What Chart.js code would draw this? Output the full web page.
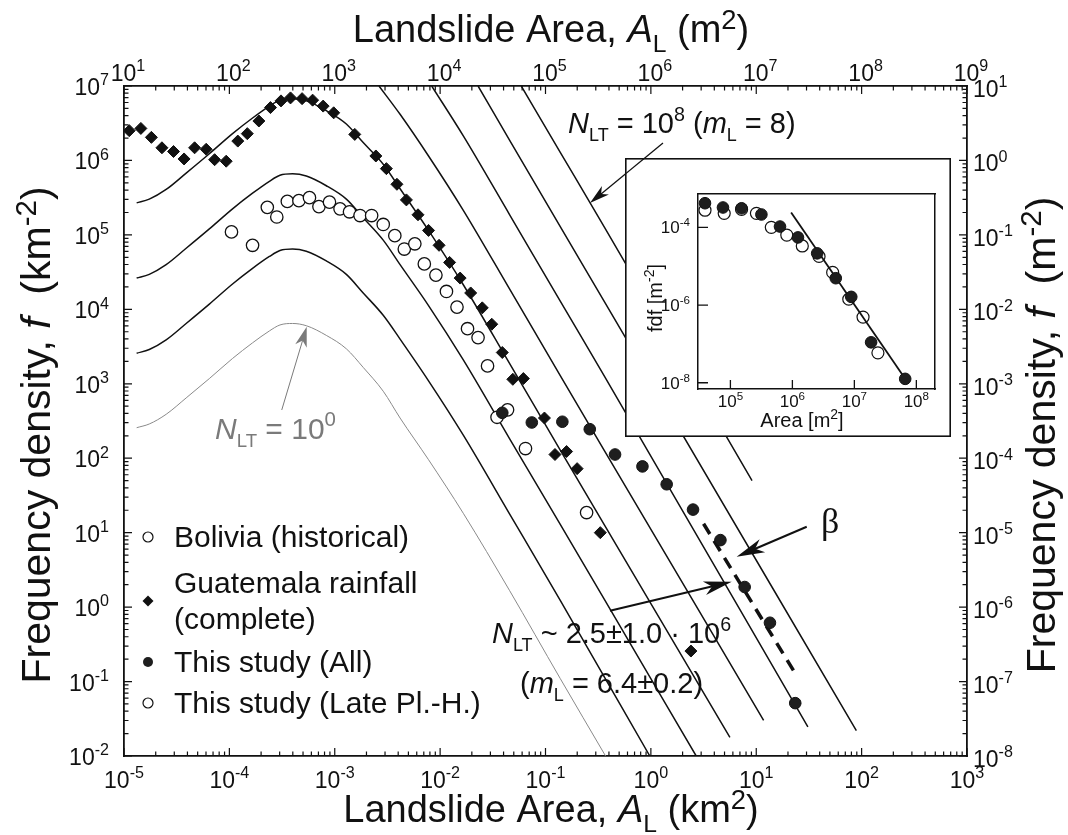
<!DOCTYPE html>
<html lang="en">
<head>
<meta charset="utf-8">
<title>Landslide frequency density</title>
<script src="https://cdn.jsdelivr.net/npm/chart.js@4.4.1/dist/chart.umd.min.js"></script>
<style>
  html, body { margin: 0; padding: 0; background: #fff; }
  #wrap { position: relative; width: 1068px; height: 835px; overflow: hidden; }
  #main { position: absolute; left: 0; top: 0; }
  #inset { position: absolute; left: 625px; top: 158px; }
</style>
</head>
<body>
<div id="wrap">
  <canvas id="main" width="1068" height="835"></canvas>
  <canvas id="inset" width="326" height="279"></canvas>
</div>
<script>
// ============================================================
// Landslide frequency density, log-log with km / m twin axes
// Values are log10 pairs [A_L, f]; main plot in km^2 and km^-2
// ============================================================

const INK = '#111';
const GREY = '#8a8a8a';
const SANS = '"Liberation Sans", Arial, Helvetica, sans-serif';
const SERIF = '"Liberation Serif", "Times New Roman", serif';

// ---- observed distributions ----
const boliviaLog = [
  [-3.98, 5.04], [-3.78, 4.86], [-3.64, 5.37], [-3.55, 5.24], [-3.45, 5.45], [-3.34, 5.46],
  [-3.24, 5.50], [-3.15, 5.38], [-3.05, 5.44], [-2.95, 5.35], [-2.86, 5.31], [-2.76, 5.26],
  [-2.65, 5.26], [-2.54, 5.14], [-2.43, 4.99], [-2.34, 4.81], [-2.24, 4.88], [-2.15, 4.61],
  [-2.04, 4.46], [-1.94, 4.24], [-1.84, 4.03], [-1.74, 3.74], [-1.64, 3.62], [-1.55, 3.24],
  [-1.46, 2.55], [-1.19, 2.13], [-0.61, 1.27]
];
const guatemalaLog = [
  [-4.95, 6.40], [-4.84, 6.43], [-4.74, 6.31], [-4.64, 6.17], [-4.53, 6.12], [-4.43, 6.02],
  [-4.33, 6.17], [-4.22, 6.15], [-4.14, 6.01], [-4.03, 5.99], [-3.92, 6.26], [-3.83, 6.36],
  [-3.72, 6.53], [-3.61, 6.71], [-3.51, 6.80], [-3.42, 6.84], [-3.31, 6.83], [-3.21, 6.81],
  [-3.11, 6.73], [-3.01, 6.64], [-2.81, 6.35], [-2.61, 6.06], [-2.51, 5.89], [-2.41, 5.68],
  [-2.32, 5.47], [-2.21, 5.27], [-2.11, 5.06], [-2.01, 4.86], [-1.91, 4.63], [-1.81, 4.42],
  [-1.71, 4.22], [-1.60, 4.02], [-1.51, 3.80], [-1.41, 3.42], [-1.31, 3.06], [-1.21, 3.07],
  [-1.01, 2.54], [-0.91, 2.05], [-0.80, 2.09], [-0.70, 1.86], [-0.48, 1.00], [0.38, -0.59]
];
const studyAllLog = [
  [-1.41, 2.61], [-1.13, 2.48], [-0.84, 2.49], [-0.58, 2.39], [-0.34, 2.05], [-0.08, 1.89],
  [0.15, 1.65], [0.40, 1.31], [0.66, 0.90], [0.89, 0.27], [1.13, -0.21], [1.37, -1.29]
];
const studyLateLog = [[-1.36, 2.65]];
const betaFitLog = [[0.50, 1.12], [1.37, -0.89]];

// ---- model curves, lowest (grey) to highest ----
const curve0Log = [
  [-4.88, 2.41], [-4.76, 2.46], [-4.60, 2.59], [-4.41, 2.81], [-4.19, 3.07], [-3.97, 3.34],
  [-3.78, 3.55], [-3.62, 3.71], [-3.52, 3.79], [-3.40, 3.81], [-3.27, 3.78], [-3.08, 3.65],
  [-2.89, 3.47], [-2.73, 3.22], [-2.54, 2.90], [-2.38, 2.54], [-2.11, 1.98], [-1.78, 1.26],
  [-1.34, 0.22], [-0.86, -0.96], [-0.43, -2.00]
];
const curve1Log = [
  [-4.88, 3.41], [-4.76, 3.46], [-4.60, 3.59], [-4.41, 3.81], [-4.19, 4.07], [-3.97, 4.34],
  [-3.78, 4.55], [-3.62, 4.71], [-3.52, 4.79], [-3.40, 4.81], [-3.27, 4.78], [-3.08, 4.65],
  [-2.89, 4.47], [-2.73, 4.22], [-2.54, 3.92], [-2.38, 3.60], [-2.11, 3.04], [-1.78, 2.31],
  [-1.34, 1.25], [-0.86, 0.09], [-0.01, -2.00]
];
const curve2Log = [
  [-4.88, 4.42], [-4.76, 4.47], [-4.60, 4.60], [-4.41, 4.82], [-4.19, 5.08], [-3.97, 5.35],
  [-3.78, 5.56], [-3.62, 5.72], [-3.52, 5.80], [-3.40, 5.82], [-3.27, 5.79], [-3.08, 5.66],
  [-2.89, 5.48], [-2.73, 5.23], [-2.54, 4.93], [-2.38, 4.60], [-2.11, 4.05], [-1.78, 3.32],
  [-1.34, 2.26], [-0.86, 1.11], [-0.44, 0.10], [0.43, -2.00]
];
const curve3Log = [
  [-4.88, 5.43], [-4.76, 5.48], [-4.60, 5.61], [-4.41, 5.83], [-4.19, 6.09], [-3.97, 6.36],
  [-3.78, 6.57], [-3.62, 6.73], [-3.52, 6.81], [-3.40, 6.83], [-3.27, 6.80], [-3.08, 6.67],
  [-2.89, 6.49], [-2.73, 6.24], [-2.54, 5.95], [-2.38, 5.62], [-2.11, 5.06], [-1.78, 4.33],
  [-1.34, 3.27], [-0.86, 2.11], [-0.44, 1.10], [0.75, -1.75]
];
const curve4Log = [[-2.58, 7.00], [-2.38, 6.62], [-2.11, 6.06], [-1.78, 5.33], [-1.34, 4.27], [-0.86, 3.11], [-0.44, 2.10], [1.07, -1.52]];
const curve5Log = [[-2.08, 7.00], [-1.78, 6.33], [-1.34, 5.27], [-0.86, 4.11], [-0.44, 3.10], [1.49, -1.61]];
const curve6Log = [[-1.64, 7.00], [-1.34, 6.27], [-0.86, 5.11], [-0.44, 4.10], [1.95, -1.66]];
const curve7Log = [[-1.23, 7.00], [-0.86, 6.11], [-0.44, 5.10], [0.96, 1.70]];

// ---- tick exponents ----
const bottomExp = [-5, -4, -3, -2, -1, 0, 1, 2, 3];
const topExp = [1, 2, 3, 4, 5, 6, 7, 8, 9];
const leftExp = [7, 6, 5, 4, 3, 2, 1, 0, -1, -2];
const rightExp = [1, 0, -1, -2, -3, -4, -5, -6, -7, -8];

// ---- inset: same study in m^2 and m^-2 ----
const insetAllLog = [
  [4.59, -3.38], [4.88, -3.49], [5.18, -3.51], [5.50, -3.67], [5.80, -3.98], [6.09, -4.26],
  [6.40, -4.67], [6.70, -5.31], [6.95, -5.79], [7.27, -6.96], [7.82, -7.90]
];
const insetLateLog = [
  [4.59, -3.56], [4.90, -3.64], [5.18, -3.54], [5.42, -3.64], [5.66, -4.00], [5.91, -4.20],
  [6.16, -4.48], [6.43, -4.75], [6.65, -5.16], [6.91, -5.85], [7.14, -6.31], [7.38, -7.23]
];
const insetFitLog = [[5.98, -3.62], [7.82, -7.90]];
const insetXExp = [5, 6, 7, 8];
const insetYExp = [-4, -6, -8];

// ---- text helpers: runs of [text, kind], kind = '' | 'i' | 'sub' | 'sup' ----
function runMetrics(kind, size, o) {
  if (kind === 'sub') return { px: size * o.sub[0], dy: size * o.sub[1], italic: false };
  if (kind === 'sup') return { px: size * o.sup[0], dy: -size * o.sup[1], italic: false };
  return { px: size, dy: 0, italic: kind === 'i' };
}

function drawRich(ctx, runs, x, y, size, opt) {
  const o = Object.assign({ align: 'left', color: INK, family: SANS, sub: [0.62, 0.26], sup: [0.68, 0.42] }, opt || {});
  const setFont = m => { ctx.font = (m.italic ? 'italic ' : '') + m.px.toFixed(1) + 'px ' + o.family; };
  ctx.save();
  ctx.fillStyle = o.color;
  ctx.textAlign = 'left';
  ctx.textBaseline = 'alphabetic';
  let w = 0;
  for (const [t, k] of runs) { const m = runMetrics(k, size, o); setFont(m); w += ctx.measureText(t).width; }
  let cx = o.align === 'center' ? x - w / 2 : (o.align === 'right' ? x - w : x);
  for (const [t, k] of runs) {
    const m = runMetrics(k, size, o);
    setFont(m);
    ctx.fillText(t, cx, y + m.dy);
    cx += ctx.measureText(t).width;
  }
  ctx.restore();
}

const powRuns = e => [['10'], [String(e), 'sup']];
const TICK_FONT = 23;
const tickOpt = extra => Object.assign({ sup: [0.7, 0.42] }, extra || {});

function logTicks(ctx, scale, side, a, major, minor) {
  const lo = Math.log10(scale.min), hi = Math.log10(scale.max);
  ctx.beginPath();
  for (let e = Math.floor(lo); e <= Math.ceil(hi); e++) {
    for (let m = 1; m <= 9; m++) {
      const lv = Math.log10(m * Math.pow(10, e));
      if (lv < lo - 1e-9 || lv > hi + 1e-9) continue;
      const p = scale.getPixelForValue(Math.pow(10, lv));
      const len = m === 1 ? major : minor;
      if (side === 'bottom') { ctx.moveTo(p, a.bottom); ctx.lineTo(p, a.bottom - len); }
      else if (side === 'top') { ctx.moveTo(p, a.top); ctx.lineTo(p, a.top + len); }
      else if (side === 'left') { ctx.moveTo(a.left, p); ctx.lineTo(a.left + len, p); }
      else { ctx.moveTo(a.right, p); ctx.lineTo(a.right - len, p); }
    }
  }
  ctx.stroke();
}

function drawArrow(ctx, x1, y1, x2, y2, o) {
  const { color = INK, width = 1.3, head = 18, half = 5 } = o || {};
  const ang = Math.atan2(y2 - y1, x2 - x1);
  ctx.save();
  ctx.strokeStyle = color;
  ctx.lineWidth = width;
  ctx.beginPath();
  ctx.moveTo(x1, y1);
  ctx.lineTo(x2 - Math.cos(ang) * head * 0.7, y2 - Math.sin(ang) * head * 0.7);
  ctx.stroke();
  ctx.translate(x2, y2);
  ctx.rotate(ang);
  ctx.fillStyle = color;
  ctx.beginPath();
  ctx.moveTo(0, 0);
  ctx.lineTo(-head, -half);
  ctx.lineTo(-head * 0.72, 0);
  ctx.lineTo(-head, half);
  ctx.closePath();
  ctx.fill();
  ctx.restore();
}

function drawMarker(ctx, style, x, y, r, fill, stroke, lw) {
  ctx.save();
  ctx.fillStyle = fill;
  ctx.strokeStyle = stroke;
  ctx.lineWidth = lw;
  ctx.beginPath();
  if (style === 'rectRot') {
    ctx.moveTo(x, y - r); ctx.lineTo(x + r, y); ctx.lineTo(x, y + r); ctx.lineTo(x - r, y); ctx.closePath();
  } else {
    ctx.arc(x, y, r, 0, Math.PI * 2);
  }
  ctx.fill();
  if (lw) ctx.stroke();
  ctx.restore();
}

const pts = arr => arr.map(([a, f]) => ({ x: Math.pow(10, a), y: Math.pow(10, f) }));

const axis = (pos, min, max, bw) => ({
  type: 'logarithmic', position: pos, min: min, max: max,
  ticks: { display: false },
  grid: { display: false, drawTicks: false },
  border: { display: true, color: INK, width: bw || 1.8 }
});

// arrow from the "N = 10^8" label, in main-canvas pixels
function topArrowPx(chart) {
  const { x, y } = chart.scales;
  return [
    x.getPixelForValue(Math.pow(10, 0.115)), y.getPixelForValue(Math.pow(10, 6.234)),
    x.getPixelForValue(Math.pow(10, -0.578)), y.getPixelForValue(Math.pow(10, 5.428))
  ];
}

const legendRows = [
  // dataset index, marker y, text line y's
  [0, 537, [537]],
  [1, 601, [583, 619]],
  [2, 662, [662]],
  [3, 703, [703]]
];

const frameDecor = {
  id: 'frameDecor',
  afterDraw(chart) {
    const ctx = chart.ctx;
    const { x, xTop, y, yRight } = chart.scales;
    const a = chart.chartArea;
    const P = (la, lf) => [x.getPixelForValue(Math.pow(10, la)), y.getPixelForValue(Math.pow(10, lf))];

    // inward tick marks on all four sides
    ctx.save();
    ctx.strokeStyle = INK;
    ctx.lineWidth = 1.2;
    logTicks(ctx, x, 'bottom', a, 8, 4.5);
    logTicks(ctx, xTop, 'top', a, 8, 4.5);
    logTicks(ctx, y, 'left', a, 8, 4.5);
    logTicks(ctx, yRight, 'right', a, 8, 4.5);
    ctx.restore();

    // tick labels
    bottomExp.forEach(e => drawRich(ctx, powRuns(e), x.getPixelForValue(Math.pow(10, e)), a.bottom + 32, TICK_FONT, tickOpt({ align: 'center' })));
    topExp.forEach(e => drawRich(ctx, powRuns(e), xTop.getPixelForValue(Math.pow(10, e)) + 4, a.top - 5, TICK_FONT, tickOpt({ align: 'center' })));
    leftExp.forEach(e => drawRich(ctx, powRuns(e), a.left - 15, y.getPixelForValue(Math.pow(10, e)) + 9, TICK_FONT, tickOpt({ align: 'right' })));
    rightExp.forEach(e => drawRich(ctx, powRuns(e), a.right + 6, yRight.getPixelForValue(Math.pow(10, e)) + 11, TICK_FONT, tickOpt()));

    // axis titles
    const tOpt = { align: 'center', sub: [0.65, 0.25], sup: [0.72, 0.34] };
    drawRich(ctx, [['Landslide Area, '], ['A', 'i'], ['L', 'sub'], [' (m'], ['2', 'sup'], [')']], 551, 42, 38, tOpt);
    drawRich(ctx, [['Landslide Area, '], ['A', 'i'], ['L', 'sub'], [' (km'], ['2', 'sup'], [')']], 551, 822, 38, tOpt);
    ctx.save();
    ctx.translate(50, 435);
    ctx.rotate(-Math.PI / 2);
    drawRich(ctx, [['Frequency density, '], ['f', 'i'], ['  (km'], ['-2', 'sup'], [')']], 0, 0, 41, tOpt);
    ctx.restore();
    ctx.save();
    ctx.translate(1055, 435);
    ctx.rotate(-Math.PI / 2);
    drawRich(ctx, [['Frequency density, '], ['f', 'i'], ['  (m'], ['-2', 'sup'], [')']], 0, 0, 41, tOpt);
    ctx.restore();

    // legend
    legendRows.forEach(([di, my, lines]) => {
      const ds = chart.data.datasets[di];
      const open = ds.pointBackgroundColor === '#fff';
      drawMarker(ctx, ds.pointStyle, 148, my, ds.pointStyle === 'rectRot' ? 5.5 : 5,
        ds.pointBackgroundColor, ds.pointBorderColor, open ? 1.2 : 0);
      ds.label.split('\n').forEach((t, i) => drawRich(ctx, [[t]], 174, lines[i] + 10, 30));
    });

    // annotations
    let p = P(-0.786, 6.369);
    drawRich(ctx, [['N', 'i'], ['LT', 'sub'], [' = 10'], ['8', 'sup'], [' ('], ['m', 'i'], ['L', 'sub'], [' = 8)']], p[0], p[1], 29);
    const ta = topArrowPx(chart);
    drawArrow(ctx, ta[0], ta[1], ta[2], ta[3], { width: 1.3, head: 20, half: 5.5 });

    p = P(-4.136, 2.258);
    drawRich(ctx, [['N', 'i'], ['LT', 'sub'], [' = 10'], ['0', 'sup']], p[0], p[1], 30, { color: '#7a7a7a' });
    let s = P(-3.503, 2.648), t = P(-3.266, 3.766);
    drawArrow(ctx, s[0], s[1], t[0], t[1], { color: '#7a7a7a', width: 1, head: 20, half: 6 });

    p = P(-1.508, -0.483);
    drawRich(ctx, [['N', 'i'], ['LT', 'sub'], [' ~ 2.5\u00b11.0 \u00b7 10'], ['6', 'sup']], p[0], p[1], 29);
    p = P(-1.242, -1.154);
    drawRich(ctx, [['('], ['m', 'i'], ['L', 'sub'], [' = 6.4\u00b10.2)']], p[0], p[1], 29);
    s = P(-0.388, -0.049); t = P(0.767, 0.341);
    drawArrow(ctx, s[0], s[1], t[0], t[1], { width: 2, head: 28, half: 7 });

    p = P(1.614, 0.995);
    drawRich(ctx, [['\u03b2']], p[0], p[1], 36, { family: SERIF });
    s = P(1.479, 1.080); t = P(0.814, 0.677);
    drawArrow(ctx, s[0], s[1], t[0], t[1], { width: 2, head: 28, half: 7 });
  }
};

const curve = (arr, i) => ({
  label: 'model ' + i,
  data: pts(arr), showLine: true,
  borderColor: i === 0 ? GREY : INK, borderWidth: i === 0 ? 1 : 1.5,
  pointRadius: 0, pointHoverRadius: 0,
  cubicInterpolationMode: 'monotone', order: 10
});
const modelCurves = [curve0Log, curve1Log, curve2Log, curve3Log, curve4Log, curve5Log, curve6Log, curve7Log];

const mainChart = new Chart(document.getElementById('main'), {
  type: 'scatter',
  data: {
    datasets: [
      { label: 'Bolivia (historical)', data: pts(boliviaLog), pointStyle: 'circle', pointRadius: 6.2,
        pointBackgroundColor: '#fff', pointBorderColor: INK, pointBorderWidth: 1.3, order: 4 },
      { label: 'Guatemala rainfall\n(complete)', data: pts(guatemalaLog), pointStyle: 'rectRot', pointRadius: 6,
        pointBackgroundColor: INK, pointBorderColor: INK, pointBorderWidth: 1, order: 2 },
      { label: 'This study (All)', data: pts(studyAllLog), pointStyle: 'circle', pointRadius: 5.8,
        pointBackgroundColor: '#1e1e1e', pointBorderColor: INK, pointBorderWidth: 1, order: 1 },
      { label: 'This study (Late Pl.-H.)', data: pts(studyLateLog), pointStyle: 'circle', pointRadius: 6.2,
        pointBackgroundColor: '#fff', pointBorderColor: INK, pointBorderWidth: 1.3, order: 3 },
      { label: 'beta', data: pts(betaFitLog), showLine: true, borderColor: INK, borderWidth: 3.5,
        borderDash: [12, 8], pointRadius: 0, order: 5 },
      ...modelCurves.map(curve)
    ]
  },
  options: {
    responsive: false,
    animation: false,
    devicePixelRatio: 1,
    events: [],
    layout: { padding: { left: 124, right: 101, top: 86, bottom: 79 } },
    plugins: { legend: { display: false }, tooltip: { enabled: false } },
    scales: {
      x: axis('bottom', 1e-5, 1e3),
      xTop: axis('top', 1e1, 1e9),
      y: axis('left', 1e-2, 1e7),
      yRight: axis('right', 1e-8, 1e1)
    }
  },
  plugins: [frameDecor]
});

// ---- inset ----
const INSET_LEFT = 625, INSET_TOP = 158;

const insetDecor = {
  id: 'insetDecor',
  beforeDraw(chart) {
    const c = chart.ctx;
    c.save();
    c.fillStyle = '#fff';
    c.fillRect(0, 0, chart.width, chart.height);
    c.restore();
  },
  afterDraw(chart) {
    const ctx = chart.ctx;
    const { x, y } = chart.scales;
    const a = chart.chartArea;
    ctx.save();
    ctx.strokeStyle = INK;
    ctx.lineWidth = 1.6;
    ctx.strokeRect(0.8, 0.8, chart.width - 1.6, chart.height - 1.6);
    ctx.lineWidth = 1.3;
    ctx.beginPath();
    insetXExp.forEach(e => { const p = x.getPixelForValue(Math.pow(10, e)); ctx.moveTo(p, a.bottom); ctx.lineTo(p, a.bottom - 9); });
    insetYExp.forEach(e => { const p = y.getPixelForValue(Math.pow(10, e)); ctx.moveTo(a.left, p); ctx.lineTo(a.left + 10, p); });
    ctx.stroke();
    ctx.restore();

    insetXExp.forEach(e => drawRich(ctx, powRuns(e), x.getPixelForValue(Math.pow(10, e)), a.bottom + 18, 17, { align: 'center' }));
    insetYExp.forEach(e => drawRich(ctx, powRuns(e), a.left - 8, y.getPixelForValue(Math.pow(10, e)) + 6, 17, { align: 'right' }));
    drawRich(ctx, [['Area [m'], ['2', 'sup'], [']']], 177, 269, 20, { align: 'center', sup: [0.7, 0.38] });
    ctx.save();
    ctx.translate(37, 140);
    ctx.rotate(-Math.PI / 2);
    drawRich(ctx, [['fdf [m'], ['-2', 'sup'], [']']], 0, 0, 20, { align: 'center', sup: [0.7, 0.38] });
    ctx.restore();

    // the label arrow crosses the inset corner
    const ta = topArrowPx(mainChart);
    drawArrow(ctx, ta[0] - INSET_LEFT, ta[1] - INSET_TOP, ta[2] - INSET_LEFT, ta[3] - INSET_TOP, { width: 1.3, head: 20, half: 5.5 });
  }
};

new Chart(document.getElementById('inset'), {
  type: 'scatter',
  data: {
    datasets: [
      { label: 'fit', data: pts(insetFitLog), showLine: true, borderColor: INK, borderWidth: 1.8, pointRadius: 0, order: 1 },
      { label: 'This study (All)', data: pts(insetAllLog), pointStyle: 'circle', pointRadius: 5.8,
        pointBackgroundColor: '#1e1e1e', pointBorderColor: INK, pointBorderWidth: 1, order: 0 },
      { label: 'This study (Late Pl.-H.)', data: pts(insetLateLog), pointStyle: 'circle', pointRadius: 6,
        pointBackgroundColor: '#fff', pointBorderColor: INK, pointBorderWidth: 1.2, order: 2 }
    ]
  },
  options: {
    responsive: false,
    animation: false,
    devicePixelRatio: 1,
    events: [],
    layout: { padding: { left: 73, right: 16, top: 36, bottom: 48 } },
    plugins: { legend: { display: false }, tooltip: { enabled: false } },
    scales: {
      x: axis('bottom', 3.0e4, 2.0e8, 1.5),
      x2: axis('top', 3.0e4, 2.0e8, 1.5),
      y: axis('left', 6.9e-9, 7.2e-4, 1.5),
      y2: axis('right', 6.9e-9, 7.2e-4, 1.5)
    }
  },
  plugins: [insetDecor]
});
</script>
</body>
</html>
